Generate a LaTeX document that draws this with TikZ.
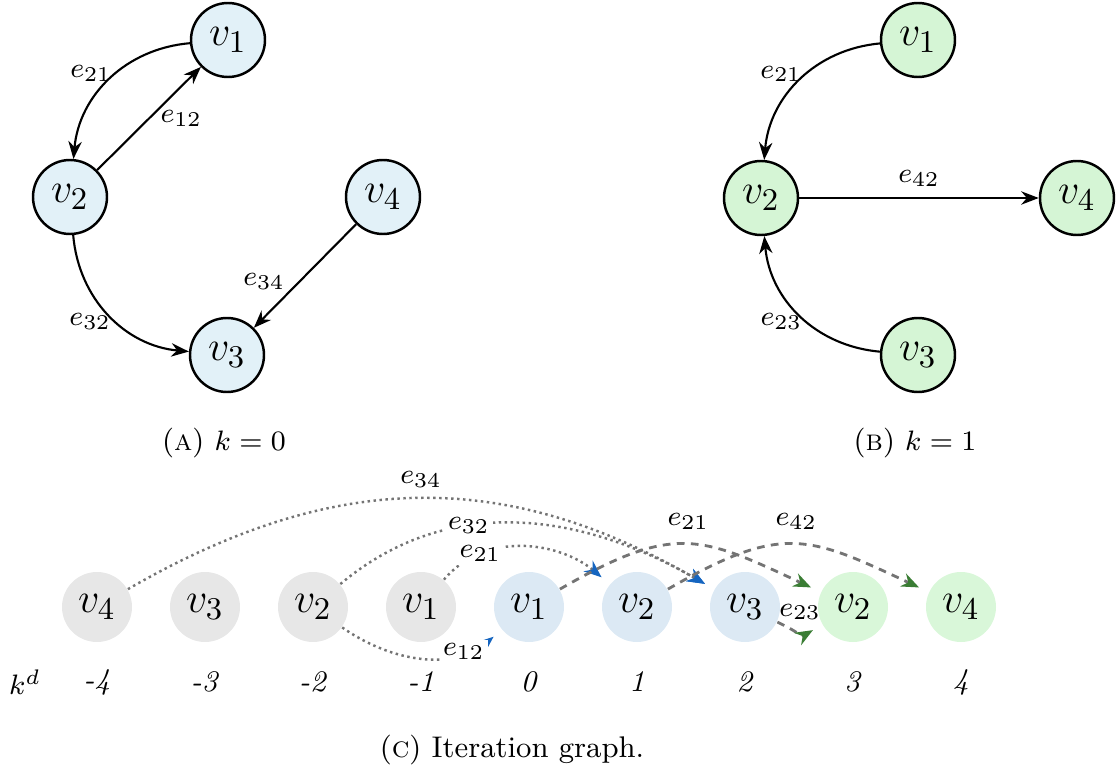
\documentclass[tikz,border=0pt]{standalone}
\usepackage{amsmath}
\usetikzlibrary{arrows.meta,positioning}
\definecolor{fillA}{HTML}{E2F1F8}
\definecolor{fillB}{HTML}{D5F5D5}
\definecolor{iterGrey}{HTML}{E7E7E7}
\definecolor{iterBlue}{HTML}{DCE9F4}
\definecolor{iterGreen}{HTML}{D9F7D9}
\definecolor{edgeGrey}{HTML}{747474}
\definecolor{tipBlue}{HTML}{1565C0}
\definecolor{tipGreen}{HTML}{3A7D34}
\begin{document}
\begin{tikzpicture}
[node distance=1.08cm, font=\footnotesize, >={Stealth[length=5pt,width=3.8pt]}]
\tikzstyle{vertex}=[circle, draw, line width=0.7pt, inner sep=0mm, minimum size=0.74cm, font=\fontsize{13}{15}\selectfont]
\tikzstyle{itervertex}=[circle, inner sep=0mm, minimum size=0.70cm, font=\fontsize{13}{15}\selectfont]
\tikzstyle{edge}=[->, line width=0.6pt]
\tikzstyle{elabel}=[inner sep=1pt, text=black, font=\footnotesize]
\tikzstyle{subcap}=[font=\fontsize{8.5}{10}\selectfont]
\tikzstyle{iterdot}=[-{Stealth[length=5pt,width=4pt,color=tipBlue]}, edgeGrey, line width=0.7pt, densely dotted, shorten >=3pt]
\tikzstyle{iterdash}=[-{Stealth[length=5pt,width=4pt,color=tipGreen]}, edgeGrey, line width=0.8pt, dash pattern=on 2.2pt off 1.8pt, shorten >=3pt]
\useasboundingbox (0,0) rectangle (11.16,-7.65);

% (a) k = 0
\node[vertex, fill=fillA]	(a1)	at (2.28,-0.40)	{$v_1$};
\node[vertex, fill=fillA]	(a2)	at (0.70,-1.97)	{$v_2$};
\node[vertex, fill=fillA]	(a3)	at (2.27,-3.55)	{$v_3$};
\node[vertex, fill=fillA]	(a4)	at (3.83,-1.97)	{$v_4$};

\draw [edge] (a1) to[bend right=40] node[elabel, pos=0.45, left]	{$e_{21}$} (a2);
\draw [edge] (a2) -- node[elabel, pos=0.5, right=2pt]	{$e_{12}$} (a1);
\draw [edge] (a2) to[bend right=40] node[elabel, pos=0.55, left]	{$e_{32}$} (a3);
\draw [edge] (a4) -- node[elabel, pos=0.55, left=3pt]		{$e_{34}$} (a3);

% (b) k = 1
\node[vertex, fill=fillB]	(b1)	at (9.18,-0.40)	{$v_1$};
\node[vertex, fill=fillB]	(b2)	at (7.61,-1.98)	{$v_2$};
\node[vertex, fill=fillB]	(b3)	at (9.18,-3.55)	{$v_3$};
\node[vertex, fill=fillB]	(b4)	at (10.77,-1.98)	{$v_4$};

\draw [edge] (b1) to[bend right=40] node[elabel, pos=0.45, left]	{$e_{21}$} (b2);
\draw [edge] (b2) -- node[elabel, above=2pt]			{$e_{42}$} (b4);
\draw [edge] (b3) to[bend left=40] node[elabel, pos=0.45, left]	{$e_{23}$} (b2);

\node[subcap]	(capA)	at (2.24,-4.43)	{(\textsc{a}) $k=0$};
\node[subcap]	(capB)	at (9.15,-4.43)	{(\textsc{b}) $k=1$};

% (c) iteration graph
\node[itervertex, fill=iterGrey]	(c0)	at (0.97,-6.07)	{$v_4$};
\node[itervertex, fill=iterGrey]	(c1)	[right of=c0]	{$v_3$};
\node[itervertex, fill=iterGrey]	(c2)	[right of=c1]	{$v_2$};
\node[itervertex, fill=iterGrey]	(c3)	[right of=c2]	{$v_1$};
\node[itervertex, fill=iterBlue]	(c4)	[right of=c3]	{$v_1$};
\node[itervertex, fill=iterBlue]	(c5)	[right of=c4]	{$v_2$};
\node[itervertex, fill=iterBlue]	(c6)	[right of=c5]	{$v_3$};
\node[itervertex, fill=iterGreen]	(c7)	[right of=c6]	{$v_2$};
\node[itervertex, fill=iterGreen]	(c8)	[right of=c7]	{$v_4$};

\node[subcap]	(kd)	at (0.25,-6.82)	{$k^d$};
\foreach \i/\k in {0/-4,1/-3,2/-2,3/-1,4/0,5/1,6/2,7/3,8/4}
	\node[subcap]	(k\i)	at (c\i |- kd)	{\textit{\k}};

\draw [iterdot] (c0) to[out=30, in=150, looseness=1.05] node[elabel, pos=0.5, above=2pt] {$e_{34}$} (c6);
\draw [iterdot] (c2) to[out=40, in=150] node[elabel, fill=white, pos=0.36] {$e_{32}$} (c6);
\draw [iterdot] (c3) to[out=50, in=140] node[elabel, fill=white, pos=0.25] {$e_{21}$} (c5);
\draw [iterdot] (c2) to[out=-35, in=-140] node[elabel, fill=white, pos=0.75] {$e_{12}$} (c4);

\draw [iterdash] (c4) to[out=30, in=155, looseness=1.3] node[elabel, pos=0.5, above=3pt] {$e_{21}$} (c7);
\draw [iterdash] (c5) to[out=30, in=155, looseness=1.3] node[elabel, pos=0.5, above=3pt] {$e_{42}$} (c8);
\draw [iterdash] (c6) to[out=-25, in=-150, looseness=1.4] node[elabel, pos=0.5, above=2pt] {$e_{23}$} (c7);

\node[subcap]	(capC)	at (5.12,-7.50)	{(\textsc{c}) Iteration graph.};
\end{tikzpicture}
\end{document}
